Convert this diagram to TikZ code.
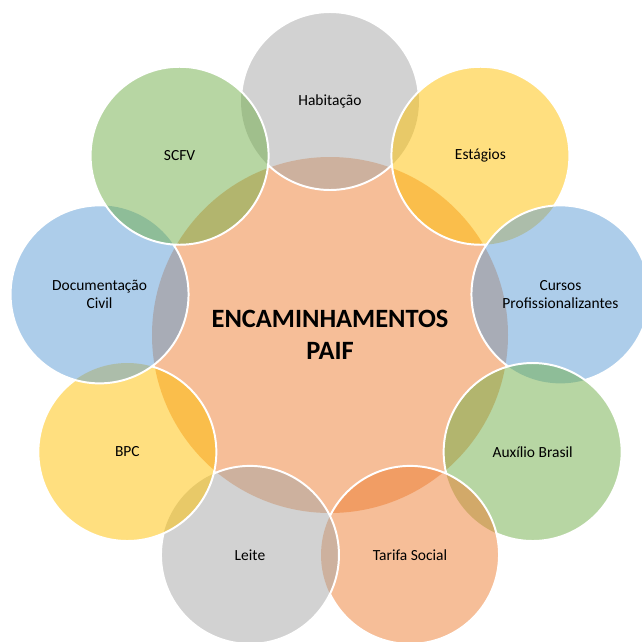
\documentclass[tikz,border=0pt]{standalone}
\usepackage{fontspec}
\setmainfont{Carlito}

\definecolor{paifOrange}{HTML}{ED7D31}
\definecolor{paifGray}{HTML}{A5A5A5}
\definecolor{paifGold}{HTML}{FFC000}
\definecolor{paifBlue}{HTML}{5B9BD5}
\definecolor{paifGreen}{HTML}{70AD47}

\tikzset{
  bubble/.style={fill opacity=0.5},
  rim/.style={draw=white, line width=1.4pt},
  itemtext/.style={font=\fontsize{11}{12.5}\selectfont, align=center, text=black},
  hubtext/.style={font=\bfseries\fontsize{18.8}{23}\selectfont, align=center, text=black}
}

\begin{document}
\begin{tikzpicture}[x=0.025cm, y=0.025cm]

    \useasboundingbox (-330,-306) rectangle (312,335);

    \coordinate (C) at (0,0);

    \coordinate (HAB) at (90:234);
    \coordinate (EST) at (50:234);
    \coordinate (CUR) at (10:234);
    \coordinate (AUX) at (-30:234);
    \coordinate (TAR) at (-70:234);
    \coordinate (LEI) at (-110:234);
    \coordinate (BPC) at (-150:234);
    \coordinate (DOC) at (170:234);
    \coordinate (SCF) at (130:234);

    \fill[paifOrange, bubble] (C) circle (178);

    % outer circles, clockwise; each rim is hidden under the circles drawn later
    \fill[paifGray, bubble] (HAB) circle (89);
    \begin{scope}[even odd rule]
      \clip (-400,-400) rectangle (400,400) (EST) circle (89);
      \clip (-400,-400) rectangle (400,400) (SCF) circle (89);
      \draw[rim] (HAB) circle (89);
    \end{scope}

    \fill[paifGold, bubble] (EST) circle (89);
    \begin{scope}[even odd rule]
      \clip (-400,-400) rectangle (400,400) (CUR) circle (89);
      \draw[rim] (EST) circle (89);
    \end{scope}

    \fill[paifBlue, bubble] (CUR) circle (89);
    \begin{scope}[even odd rule]
      \clip (-400,-400) rectangle (400,400) (AUX) circle (89);
      \draw[rim] (CUR) circle (89);
    \end{scope}

    \fill[paifGreen, bubble] (AUX) circle (89);
    \begin{scope}[even odd rule]
      \clip (-400,-400) rectangle (400,400) (TAR) circle (89);
      \draw[rim] (AUX) circle (89);
    \end{scope}

    \fill[paifOrange, bubble] (TAR) circle (89);
    \begin{scope}[even odd rule]
      \clip (-400,-400) rectangle (400,400) (LEI) circle (89);
      \draw[rim] (TAR) circle (89);
    \end{scope}

    \fill[paifGray, bubble] (LEI) circle (89);
    \begin{scope}[even odd rule]
      \clip (-400,-400) rectangle (400,400) (BPC) circle (89);
      \draw[rim] (LEI) circle (89);
    \end{scope}

    \fill[paifGold, bubble] (BPC) circle (89);
    \begin{scope}[even odd rule]
      \clip (-400,-400) rectangle (400,400) (DOC) circle (89);
      \draw[rim] (BPC) circle (89);
    \end{scope}

    \fill[paifBlue, bubble] (DOC) circle (89);
    \begin{scope}[even odd rule]
      \clip (-400,-400) rectangle (400,400) (SCF) circle (89);
      \draw[rim] (DOC) circle (89);
    \end{scope}

    \fill[paifGreen, bubble] (SCF) circle (89);
    \draw[rim] (SCF) circle (89);

    \node[hubtext] (paif) at (C) {ENCAMINHAMENTOS\\PAIF};

    \node[itemtext] (habT) at (HAB) {Habitação};
    \node[itemtext] (estT) at (EST) {Estágios};
    \node[itemtext] (curT) at (CUR) {Cursos\\Profissionalizantes};
    \node[itemtext] (auxT) at (AUX) {Auxílio Brasil};
    \node[itemtext] (tarT) at (TAR) {Tarifa Social};
    \node[itemtext] (leiT) at (LEI) {Leite};
    \node[itemtext] (bpcT) at (BPC) {BPC};
    \node[itemtext] (docT) at (DOC) {Documentação\\Civil};
    \node[itemtext] (scfT) at (SCF) {SCFV};

  \end{tikzpicture}
\end{document}
